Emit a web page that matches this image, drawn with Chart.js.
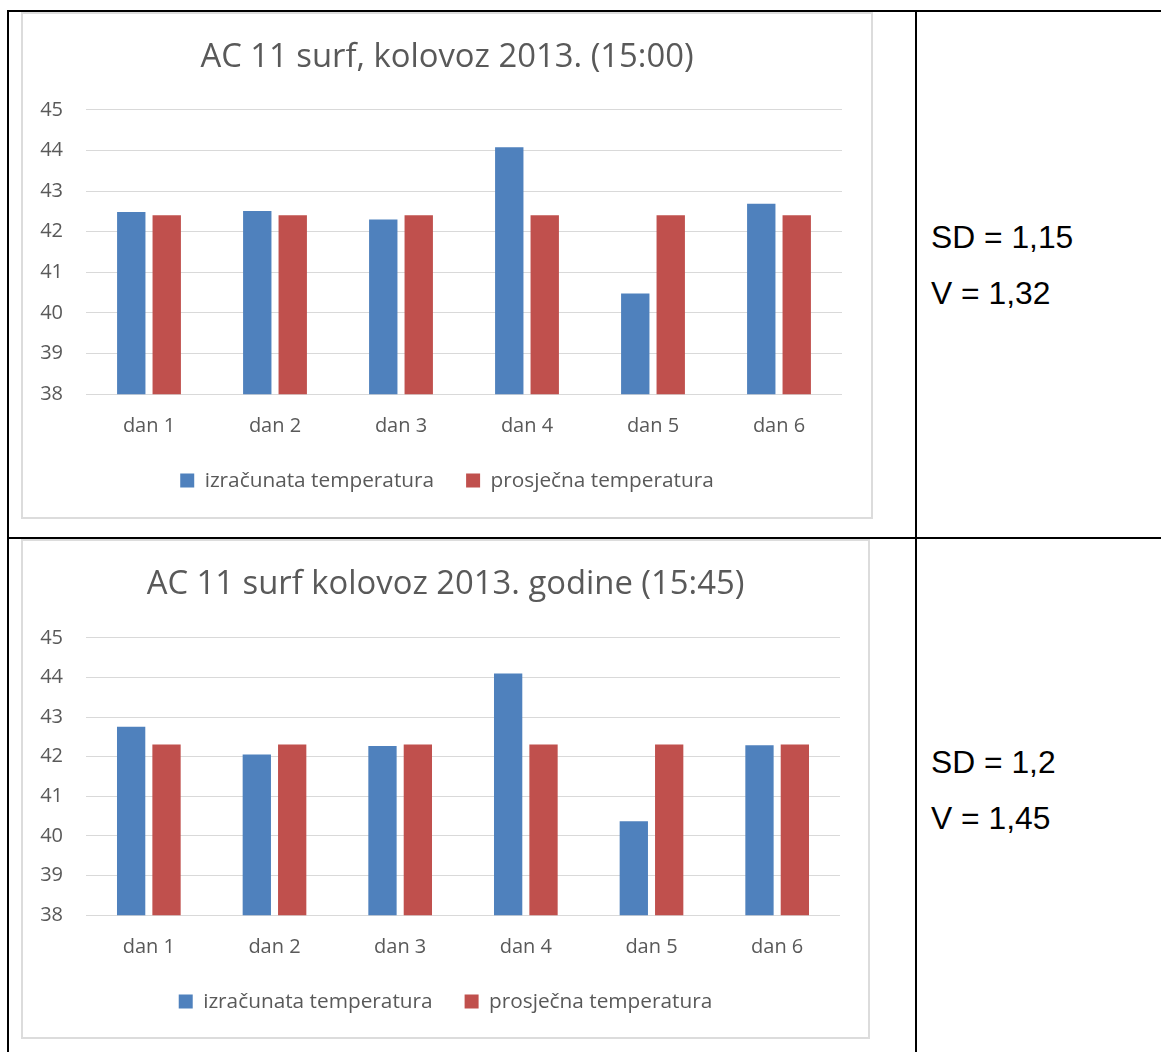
<!DOCTYPE html>
<html>
<head>
<meta charset="utf-8">
<script src="https://cdn.jsdelivr.net/npm/chart.js@4.4.1/dist/chart.umd.min.js"></script>
<style>
    html, body { margin: 0; padding: 0; background: #fff; }
    body { width: 1161px; height: 1052px; position: relative; overflow: hidden; }
    .rule { position: absolute; background: #000; }
    .frame { position: absolute; border: 2px solid #dcdcdc; box-sizing: border-box; }
    .chart-box { position: absolute; }
    .stats {
        position: absolute; left: 931px;
        font-family: 'Liberation Sans', Arial, sans-serif;
        font-size: 31.8px; line-height: 56px; color: #000;
    }
</style>
</head>
<body>

<!-- table grid -->
<div class="rule" style="left:7px; top:10px; width:1154px; height:2px;"></div>
<div class="rule" style="left:7px; top:10px; width:2px; height:1042px;"></div>
<div class="rule" style="left:915px; top:10px; width:2px; height:1042px;"></div>
<div class="rule" style="left:7px; top:537px; width:1154px; height:2px;"></div>

<!-- row 1 -->
<div class="frame" style="left:21px; top:12px; width:852px; height:507px;"></div>
<div class="chart-box" style="left:22px; top:12px; width:850px; height:506px;">
    <canvas id="chart1500"></canvas>
</div>
<div class="stats" id="stats1500" style="top:209px;"></div>

<!-- row 2 -->
<div class="frame" style="left:21px; top:539px; width:849px; height:500px;"></div>
<div class="chart-box" style="left:22px; top:539px; width:847px; height:499px;">
    <canvas id="chart1545"></canvas>
</div>
<div class="stats" id="stats1545" style="top:734px;"></div>

<script>
// --- Data ---
const days = ['dan 1', 'dan 2', 'dan 3', 'dan 4', 'dan 5', 'dan 6'];
const seriesNames = ['izračunata temperatura', 'prosječna temperatura'];

const calc1500 = [42.49, 42.51, 42.30, 44.08, 40.48, 42.69];
const avg1500  = [42.41, 42.41, 42.41, 42.41, 42.41, 42.41];

const calc1545 = [42.76, 42.06, 42.27, 44.10, 40.37, 42.29];
const avg1545  = [42.31, 42.31, 42.31, 42.31, 42.31, 42.31];

const yTicks = [38, 39, 40, 41, 42, 43, 44, 45];

const stats1500 = ['SD = 1,15', 'V = 1,32'];
const stats1545 = ['SD = 1,2', 'V = 1,45'];

// --- Style ---
const BLUE = '#4F81BD';
const RED = '#C0504D';
const TEXT = '#595959';
const GRID = '#d9d9d9';

Chart.defaults.font.family = "'Open Sans', sans-serif";
Chart.defaults.color = TEXT;

function makeChart(canvasId, title, calc, avg, lay) {
    return new Chart(document.getElementById(canvasId), {
        type: 'bar',
        data: {
            labels: days,
            datasets: [
                { label: seriesNames[0], data: calc, backgroundColor: BLUE, borderWidth: 0 },
                { label: seriesNames[1], data: avg, backgroundColor: RED, borderWidth: 0 }
            ]
        },
        options: {
            responsive: true,
            maintainAspectRatio: false,
            animation: false,
            layout: { padding: { top: 0, left: 0, right: 0, bottom: lay.bottom } },
            datasets: { bar: { categoryPercentage: 0.563, barPercentage: 0.8 } },
            plugins: {
                title: {
                    display: true,
                    text: title,
                    color: TEXT,
                    font: { size: 32.8, weight: 'normal' },
                    padding: { top: lay.titleTop, bottom: lay.titleBottom }
                },
                legend: {
                    position: 'bottom',
                    labels: {
                        boxWidth: 14, boxHeight: 14, padding: 32,
                        color: TEXT, font: { size: 20.8 }
                    }
                },
                tooltip: { enabled: false }
            },
            scales: {
                x: {
                    grid: { display: false, drawTicks: false },
                    border: { display: false },
                    ticks: { padding: 20, font: { size: 20 }, color: TEXT },
                    afterFit: s => { s.height = 44; }
                },
                y: {
                    min: yTicks[0],
                    max: yTicks[yTicks.length - 1],
                    grid: { color: GRID, lineWidth: 1, drawTicks: false },
                    border: { display: false },
                    ticks: { stepSize: 1, padding: 23, font: { size: 20 }, color: TEXT },
                    afterFit: s => { s.width = 64; }
                },
                // empty right axis, keeps the plot narrower while title/legend stay centred
                yPad: {
                    type: 'linear',
                    position: 'right',
                    grid: { display: false },
                    border: { display: false },
                    ticks: { display: false },
                    afterFit: s => { s.width = lay.right; }
                }
            }
        }
    });
}

makeChart('chart1500', 'AC 11 surf, kolovoz 2013. (15:00)', calc1500, avg1500,
    { titleTop: 25.5, titleBottom: 33.1, bottom: 17, right: 30 });
makeChart('chart1545', 'AC 11 surf kolovoz 2013. godine (15:45)', calc1545, avg1545,
    { titleTop: 26, titleBottom: 33.6, bottom: 16, right: 29 });

document.getElementById('stats1500').innerHTML = stats1500.join('<br>');
document.getElementById('stats1545').innerHTML = stats1545.join('<br>');
</script>
</body>
</html>
